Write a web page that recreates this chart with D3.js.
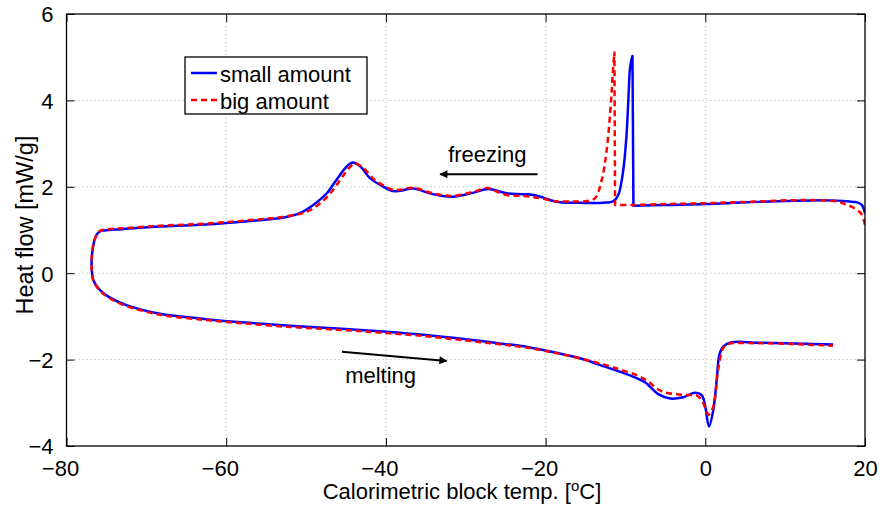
<!DOCTYPE html>
<html>
<head>
<meta charset="utf-8">
<script src="https://cdn.jsdelivr.net/npm/d3@7"></script>
<style>
  body { margin: 0; background: #fff; }
  svg { display: block; font-family: "Liberation Sans", Arial, Helvetica, sans-serif; }
</style>
</head>
<body>
<div id="chart"></div>
<script>
// data (block temp in C, heat flow in mW/g), loop order: freezing -> melting
const smallT = [20, 19.6, 19.0, 18.0, 16.5, 14.7, 10, 5, 0, -5, -9.0, -9.12, -9.4, -9.64, -9.85, -10.27, -10.9, -11.5, -12.8, -15.7,
  -18.2, -19.0, -20.3, -21.5, -23.0, -24.9, -27.2, -29.1, -31.6, -33.0, -34.5, -36.6, -38.2, -39.1, -40.3, -42.0, -43.2, -44.2, -44.9, -46.2,
  -47.4, -49.1, -50.8, -52.8, -57.0, -63.3, -68.3, -73, -75.2, -75.8, -76.2, -76.6, -76.85, -76.8, -76.6, -75.8, -74.6, -72.5, -68.3, -63.3,
  -59.9, -51.6, -45, -40.3, -35, -29.9, -26, -23.2, -20.0, -15.7, -12.8, -10.7, -8.6, -7.5, -6.9, -5.9, -4.4, -2.75, -1.3, -0.45,
  0, 0.46, 1.0, 1.43, 1.76, 2.25, 3.3, 6.85, 16.0];
const smallQ = [1.38, 1.58, 1.64, 1.66, 1.68, 1.69, 1.67, 1.64, 1.60, 1.58, 1.56, 5.03, 4.79, 4.0, 3.25, 2.39, 1.81, 1.67, 1.63, 1.63,
  1.64, 1.67, 1.75, 1.81, 1.83, 1.85, 1.95, 1.86, 1.77, 1.79, 1.85, 1.96, 1.91, 1.90, 2.0, 2.20, 2.47, 2.56, 2.47, 2.16,
  1.85, 1.58, 1.39, 1.29, 1.21, 1.12, 1.08, 1.02, 0.99, 0.97, 0.90, 0.69, 0.30, 0.0, -0.18, -0.39, -0.56, -0.74, -0.94, -1.05,
  -1.11, -1.22, -1.29, -1.35, -1.43, -1.53, -1.62, -1.68, -1.79, -1.97, -2.15, -2.28, -2.43, -2.53, -2.63, -2.80, -2.90, -2.87, -2.77, -2.82,
  -3.09, -3.55, -3.17, -2.47, -1.89, -1.70, -1.60, -1.61, -1.65];

const bigT = [20, 19.5, 18.5, 17.5, 16.5, 14, 11, 5, 0, -5, -9, -11.3, -11.38, -11.6, -11.8, -12.35, -12.97, -13.8, -14.85, -16.5,
  -18.2, -19.0, -20.3, -21.5, -23, -24.9, -26.0, -27.2, -29.1, -31.6, -33, -34.5, -36.6, -38.2, -39.1, -39.9, -41.4, -42.8, -43.9, -45.3,
  -46.6, -47.8, -49.9, -52.8, -57.0, -63.3, -68.3, -73, -75.2, -75.8, -76.2, -76.6, -76.85, -76.8, -76.6, -75.8, -74.6, -72.5, -68.3, -63.3,
  -59.9, -51.6, -45, -40.3, -35, -29.9, -26, -23.2, -20.0, -15.7, -12.8, -10.7, -8.6, -7.1, -6.1, -5.05, -3.6, -2.3, -1.1, -0.45,
  0.17, 0.38, 1.0, 1.6, 2.2, 2.7, 6.85, 16.0];
const bigQ = [1.12, 1.38, 1.52, 1.60, 1.66, 1.69, 1.69, 1.65, 1.62, 1.60, 1.58, 1.58, 5.13, 4.6, 4.0, 2.85, 2.16, 1.74, 1.67, 1.66,
  1.66, 1.67, 1.72, 1.76, 1.79, 1.81, 1.88, 1.97, 1.88, 1.79, 1.81, 1.87, 1.98, 1.93, 1.93, 1.99, 2.16, 2.43, 2.54, 2.27,
  1.93, 1.69, 1.42, 1.31, 1.23, 1.14, 1.10, 1.04, 1.01, 0.98, 0.90, 0.69, 0.30, 0.0, -0.19, -0.41, -0.58, -0.76, -0.96, -1.07,
  -1.13, -1.25, -1.32, -1.38, -1.46, -1.56, -1.64, -1.70, -1.80, -1.97, -2.11, -2.23, -2.36, -2.51, -2.67, -2.76, -2.80, -2.82, -2.83, -2.94,
  -3.20, -3.28, -3.09, -2.24, -1.75, -1.65, -1.62, -1.68];

const xTicks = [-80, -60, -40, -20, 0, 20];
const yTicks = [-4, -2, 0, 2, 4, 6];
const seriesNames = ["small amount", "big amount"];

var width = 880, height = 508;
var margin = {top: 14, right: 15, bottom: 62, left: 66.5};
var iw = width - margin.left - margin.right,
    ih = height - margin.top - margin.bottom;

var svg = d3.select("#chart")
  .append("svg")
    .attr("width", width)
    .attr("height", height);

var g = svg.append("g")
    .attr("transform", "translate(" + margin.left + "," + margin.top + ")");

var x = d3.scaleLinear().domain([-80, 20]).range([0, iw]);
var y = d3.scaleLinear().domain([-4, 6]).range([ih, 0]);

// dotted grid
g.selectAll(".gx").data(xTicks.slice(1, -1)).enter().append("line")
    .attr("x1", d => x(d)).attr("x2", d => x(d))
    .attr("y1", 0).attr("y2", ih)
    .style("stroke", "#aaa").style("stroke-dasharray", "1,3");
g.selectAll(".gy").data(yTicks.slice(1, -1)).enter().append("line")
    .attr("y1", d => y(d)).attr("y2", d => y(d))
    .attr("x1", 0).attr("x2", iw)
    .style("stroke", "#aaa").style("stroke-dasharray", "1,3");

var defs = svg.append("defs");
defs.append("clipPath").attr("id", "clip")
  .append("rect").attr("width", iw).attr("height", ih);

var smooth = d3.line()
    .x(d => x(d[0]))
    .y(d => y(d[1]))
    .curve(d3.curveCatmullRom.alpha(0.5));
var straight = d3.line()
    .x(d => x(d[0]))
    .y(d => y(d[1]));

// the freezing spike has a vertical edge and a sharp tip, so split the path there
let cornerPath = (t, q) => {
  let data = t.map((v, i) => [v, q[i]]);
  let top = d3.maxIndex(q);
  let cuts = [0, top - 1, top, data.length - 1];
  let d = "";
  for (let k = 0; k < cuts.length - 1; k++) {
    let seg = data.slice(cuts[k], cuts[k + 1] + 1);
    let s = (seg.length > 2 ? smooth : straight)(seg);
    d += k === 0 ? s : "L" + s.slice(1);
  }
  return d;
}

var plot = g.append("g").attr("clip-path", "url(#clip)");
plot.append("path")
    .attr("d", cornerPath(smallT, smallQ))
    .style("fill", "none")
    .style("stroke", "#0000ff")
    .style("stroke-width", 2.5)
    .style("stroke-linejoin", "round");
plot.append("path")
    .attr("d", cornerPath(bigT, bigQ))
    .style("fill", "none")
    .style("stroke", "#ff0000")
    .style("stroke-width", 2.5)
    .style("stroke-dasharray", "6,4");

// axes, ticks inward on all four sides
var fontSize = 22;
var fmt = d => d3.format("")(d).replace("-", "\u2212");
var xAxis = g.append("g").attr("transform", "translate(0," + ih + ")")
    .call(d3.axisBottom(x).tickValues(xTicks).tickSizeInner(-8).tickSizeOuter(0).tickPadding(14).tickFormat(fmt));
var yAxis = g.append("g")
    .call(d3.axisLeft(y).tickValues(yTicks).tickSizeInner(-8).tickSizeOuter(0).tickPadding(13).tickFormat(fmt));
g.append("g")
    .call(d3.axisTop(x).tickValues(xTicks).tickSizeInner(-8).tickSizeOuter(0).tickFormat(""));
g.append("g").attr("transform", "translate(" + iw + ",0)")
    .call(d3.axisRight(y).tickValues(yTicks).tickSizeInner(-8).tickSizeOuter(0).tickFormat(""));

g.selectAll(".domain").remove();
g.selectAll(".tick line").style("stroke", "#000");
g.selectAll(".tick text")
    .style("font-family", "'Liberation Sans', Arial, sans-serif")
    .style("font-size", fontSize + "px")
    .style("fill", "#000");
yAxis.selectAll(".tick text").attr("dy", "0.36em");
// matlab centres the digits, the minus sign hangs to the left
xAxis.selectAll(".tick text").attr("dy", "0.71em").attr("dx", d => d < 0 ? -6.5 : 0);

g.append("rect")
    .attr("width", iw).attr("height", ih)
    .style("fill", "none").style("stroke", "#000").style("stroke-width", 1.3);

// axis titles
var xt = svg.append("text")
    .attr("x", 462).attr("y", 499)
    .attr("text-anchor", "middle")
    .style("font-size", fontSize + "px");
xt.append("tspan").text("Calorimetric block temp. [");
xt.append("tspan").attr("dy", -8).style("font-size", "15px").text("o");
xt.append("tspan").attr("dy", 8).text("C]");

svg.append("text")
    .attr("transform", "translate(33,225) rotate(-90)")
    .attr("text-anchor", "middle")
    .style("font-size", "23.5px")
    .text("Heat flow [mW/g]");

// annotations with arrows
defs.append("marker")
    .attr("id", "arrow")
    .attr("viewBox", "0 0 10 10")
    .attr("refX", 9).attr("refY", 5)
    .attr("markerWidth", 10).attr("markerHeight", 8)
    .attr("markerUnits", "userSpaceOnUse")
    .attr("orient", "auto")
  .append("path").attr("d", "M0,0 L10,5 L0,10 z").style("fill", "#000");

g.append("line")
    .attr("x1", x(-21.0)).attr("y1", y(2.29))
    .attr("x2", x(-33.2)).attr("y2", y(2.29))
    .style("stroke", "#000").style("stroke-width", 2)
    .attr("marker-end", "url(#arrow)");
g.append("text")
    .attr("x", x(-32.2)).attr("y", y(2.58))
    .style("font-size", fontSize + "px")
    .text("freezing");

g.append("line")
    .attr("x1", x(-45.5)).attr("y1", y(-1.82))
    .attr("x2", x(-32.4)).attr("y2", y(-2.03))
    .style("stroke", "#000").style("stroke-width", 2)
    .attr("marker-end", "url(#arrow)");
g.append("text")
    .attr("x", x(-45.1)).attr("y", y(-2.55))
    .style("font-size", fontSize + "px")
    .text("melting");

// legend
var legend = svg.append("g").attr("transform", "translate(185,57)");
legend.append("rect")
    .attr("width", 182).attr("height", 57)
    .style("fill", "#fff").style("stroke", "#000").style("stroke-width", 1.3);
var styles = [{c: "#0000ff", dash: null}, {c: "#ff0000", dash: "6,4"}];
seriesNames.forEach((name, i) => {
  var ly = 16 + i * 27;
  legend.append("line")
      .attr("x1", 6).attr("x2", 32).attr("y1", ly).attr("y2", ly)
      .style("stroke", styles[i].c).style("stroke-width", 2.5)
      .style("stroke-dasharray", styles[i].dash);
  legend.append("text")
      .attr("x", 35).attr("y", ly + 8.5)
      .style("font-size", fontSize + "px")
      .text(name);
});
</script>
</body>
</html>
